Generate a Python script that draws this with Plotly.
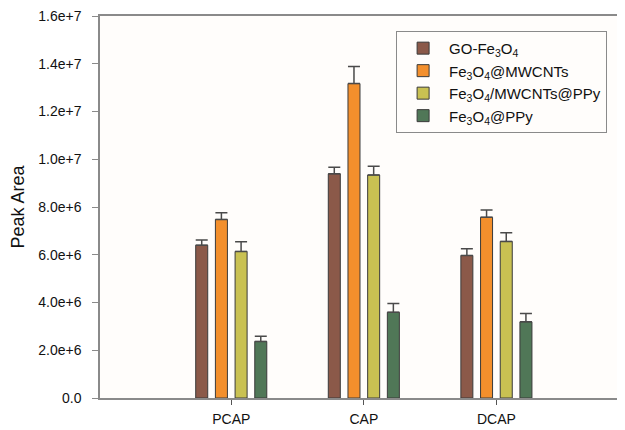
import plotly.graph_objects as go

categories = ["PCAP", "CAP", "DCAP"]
series_names = ["GO-Fe<sub>3</sub>O<sub>4</sub>",
                "Fe<sub>3</sub>O<sub>4</sub>@MWCNTs",
                "Fe<sub>3</sub>O<sub>4</sub>/MWCNTs@PPy",
                "Fe<sub>3</sub>O<sub>4</sub>@PPy"]
go_fe3o4 = [6.40e6, 9.39e6, 5.97e6]
fe3o4_mwcnts = [7.48e6, 13.17e6, 7.57e6]
fe3o4_mwcnts_ppy = [6.14e6, 9.34e6, 6.56e6]
fe3o4_ppy = [2.37e6, 3.59e6, 3.19e6]
err_go_fe3o4 = [0.22e6, 0.28e6, 0.28e6]
err_fe3o4_mwcnts = [0.28e6, 0.72e6, 0.30e6]
err_fe3o4_mwcnts_ppy = [0.40e6, 0.37e6, 0.36e6]
err_fe3o4_ppy = [0.22e6, 0.37e6, 0.35e6]
y_tickvals = [0, 2e6, 4e6, 6e6, 8e6, 1e7, 1.2e7, 1.4e7, 1.6e7]
y_ticktext = ["0.0", "2.0e+6", "4.0e+6", "6.0e+6", "8.0e+6", "1.0e+7", "1.2e+7", "1.4e+7", "1.6e+7"]

colors = ["#8b5949", "#f38f2c", "#c9c152", "#507757"]
values = [go_fe3o4, fe3o4_mwcnts, fe3o4_mwcnts_ppy, fe3o4_ppy]
errors = [err_go_fe3o4, err_fe3o4_mwcnts, err_fe3o4_mwcnts_ppy, err_fe3o4_ppy]

FONT = "Liberation Sans, Arial, sans-serif"

fig = go.Figure()
for name, vals, errs, col in zip(series_names, values, errors, colors):
    fig.add_trace(go.Bar(
        x=categories, y=vals, name=name,
        marker=dict(color=col, line=dict(color="#3a3a3a", width=1)),
        error_y=dict(type="data", symmetric=False, array=errs,
                     arrayminus=[0] * len(errs),
                     color="#4a4a4a", thickness=1.5, width=6),
    ))

fig.update_layout(
    width=617, height=422,
    margin=dict(l=92, r=0, t=8, b=32),
    paper_bgcolor="white",
    plot_bgcolor="#fffdfb",
    barmode="group",
    bargap=0.406,
    bargroupgap=0.39,
    font=dict(family=FONT, size=14, color="#111111"),
    showlegend=True,
    legend=dict(
        x=0.564, y=0.961, xanchor="left", yanchor="top",
        bordercolor="#8a8a8a", borderwidth=1,
        bgcolor="rgba(0,0,0,0)",
        font=dict(family=FONT, size=15, color="#111111"),
        tracegroupgap=0,
        itemwidth=42,
    ),
)
fig.update_xaxes(
    type="category",
    range=[-0.99, 2.97],
    showline=True, linecolor="#8a8a8a", linewidth=1.5, mirror=True,
    ticks="outside", ticklen=5, tickcolor="#555555", tickwidth=1,
    ticklabelstandoff=2,
    showgrid=False, zeroline=False,
)
fig.update_yaxes(
    range=[0, 1.6e7],
    tickvals=y_tickvals, ticktext=y_ticktext,
    showline=True, linecolor="#8a8a8a", linewidth=1.5,
    ticks="outside", ticklen=6, tickcolor="#8a8a8a", tickwidth=1,
    ticklabelstandoff=8,
    ticklabeloverflow="allow",
    showgrid=False, zeroline=False,
    title=dict(text="Peak Area", font=dict(family=FONT, size=18, color="#111111"), standoff=12),
)

fig.write_html("out.html")
